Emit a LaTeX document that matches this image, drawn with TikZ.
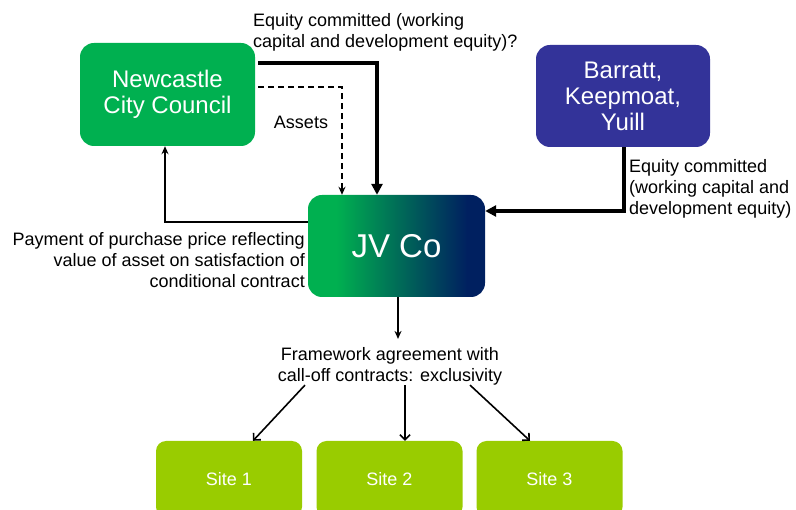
\documentclass[tikz,border=0pt]{standalone}
\usepackage{fontspec}
\setmainfont{Liberation Sans}
\usetikzlibrary{arrows.meta}

\definecolor{cverde}{HTML}{00B050}
\definecolor{cblu}{HTML}{333399}
\definecolor{cnavy}{HTML}{002060}
\definecolor{clime}{HTML}{99CC00}
%% sfumatura del riquadro JV (verde -> blu notte)
\pgfdeclarehorizontalshading{jvsfum}{100bp}{color(0bp)=(cverde); color(33bp)=(cverde);
	color(70bp)=(cnavy); color(100bp)=(cnavy)}

\begin{document}
\begin{tikzpicture}[x=1pt, y=-1pt,
			box/.style={rounded corners=14pt, text=white, align=center, inner sep=0pt,
				font=\fontsize{24}{26}\selectfont},
			sito/.style={box, rounded corners=10pt, fill=clime, minimum width=146pt,
				minimum height=76pt, font=\fontsize{18}{21}\selectfont},
			etich/.style={inner sep=0pt, font=\fontsize{18}{21}\selectfont},
			spessa/.style={line width=3.3pt, -{Triangle[length=11pt,width=11pt]}},
			sottile/.style={line width=1.5pt, -{Stealth[length=8pt,width=7pt]}},
			tratt/.style={sottile, dash pattern=on 6pt off 4pt},
			ramo/.style={line width=1.6pt, -{Straight Barb[length=5pt,width=10pt]}},
			]
			\clip(0,0)rectangle(796,510);
			
			%% =========================================================
			%% soggetti
			%% =========================================================
			\node[box, fill=cverde, minimum width=175pt, minimum height=103pt](ncc)at(167.5,94.5)
				{Newcastle\\City Council};
			\node[box, fill=cblu, minimum width=174pt, minimum height=102pt](bky)at(623,96)
				{Barratt,\\Keepmoat,\\Yuill};
			\node[box, shading=jvsfum, minimum width=177pt, minimum height=102pt,
				font=\fontsize{33}{36}\selectfont](jv)at(396.5,246){JV Co};
			
			%% siti
			\node[sito](s1)at(229,479){Site 1};
			\node[sito](s2)at(389.5,479){Site 2};
			\node[sito](s3)at(549.5,479){Site 3};
			
			%% =========================================================
			%% flussi
			%% =========================================================
			%% equity del Comune
			\draw[spessa]([xshift=3pt,yshift=31.5pt]ncc.east)-|([xshift=-19.5pt]jv.north);
			%% assets
			\draw[tratt]([xshift=3pt,yshift=7.5pt]ncc.east)-|([xshift=-54.5pt]jv.north);
			%% pagamento del prezzo
			\draw[sottile]([yshift=24pt]jv.west)-|([xshift=-2.5pt]ncc.south);
			%% equity dei costruttori
			\draw[spessa]([xshift=1pt]bky.south)|-([yshift=35pt]jv.east);
			
			%% accordo quadro e call-off
			\node[etich, align=center](fw)at(390,366){Framework agreement with\\call-off contracts: exclusivity};
			\draw[sottile]([xshift=1.5pt]jv.south)--([xshift=1.5pt,yshift=8pt]jv.south|-fw.north);
			\draw[ramo]([xshift=-85pt]fw.south)--([xshift=24pt]s1.north);
			\draw[ramo]([xshift=15pt]fw.south)--([xshift=15.5pt]s2.north);
			\draw[ramo]([xshift=80pt]fw.south)--([xshift=-19.5pt]s3.north);
			
			%% etichette dei flussi
			\node[etich, anchor=north west, align=left](leq)at(253,13)
				{Equity committed (working\\capital and development equity)?};
			\node[etich](lass)at(301,122){Assets};
			\node[etich, anchor=north east, align=right](lpay)at(305,232)
				{Payment of purchase price reflecting\\value of asset on satisfaction of\\conditional contract};
			\node[etich, anchor=north west, align=left](lbky)at(629,159)
				{Equity committed\\(working capital and\\development equity)};
			
	\end{tikzpicture}
\end{document}
